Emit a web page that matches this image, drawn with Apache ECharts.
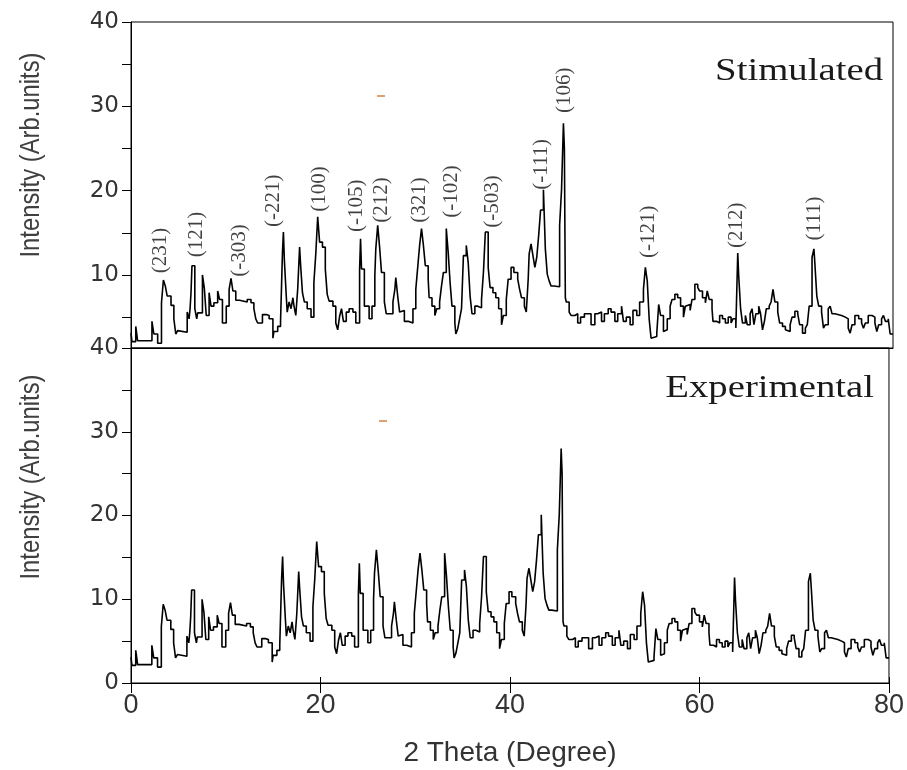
<!DOCTYPE html>
<html>
<head>
<meta charset="utf-8">
<title>XRD pattern</title>
<script src="https://cdn.jsdelivr.net/npm/echarts@6/dist/echarts.min.js"></script>
<style>
  html, body { margin: 0; padding: 0; background: #fff; }
  #chart { width: 907px; height: 770px; }
</style>
</head>
<body>
<div id="chart"></div>
<script>
// 2 theta (degree) where each step of the trace starts
const twoTheta = [
  0.0, 0.1, 0.5, 0.7, 2.2, 2.4, 2.8, 3.2, 3.4, 3.6, 3.8, 4.2, 4.5, 4.7, 4.9, 5.0,
  5.9, 6.1, 6.2, 6.3, 6.4, 6.7, 6.9, 7.0, 7.5, 7.7, 7.9, 8.2, 8.4, 8.7, 9.1, 9.3,
  9.6, 10.0, 10.3, 10.5, 10.7, 11.0, 11.4, 12.2, 12.6, 12.9, 13.1, 13.3, 13.8, 14.2,
  14.5, 14.9, 15.0, 15.4, 15.7, 15.9, 16.0, 16.1, 16.3, 16.4, 16.6, 16.8, 17.0, 17.1,
  17.3, 17.5, 17.7, 17.8, 18.0, 18.2, 18.5, 18.9, 19.2, 19.4, 19.6, 19.8, 20.1, 20.4,
  20.6, 20.8, 21.2, 21.5, 21.7, 21.9, 22.1, 22.3, 22.6, 22.9, 23.3, 23.6, 24.0, 24.1,
  24.2, 24.5, 25.0, 25.3, 25.6, 25.7, 25.9, 26.1, 26.3, 26.6, 26.8, 27.5, 27.7, 27.8,
  28.0, 28.2, 28.4, 28.7, 29.1, 29.6, 29.9, 30.1, 30.3, 30.5, 30.7, 30.9, 31.2, 31.3,
  31.6, 31.9, 32.1, 32.4, 32.6, 32.8, 33.1, 33.3, 33.5, 33.7, 34.0, 34.1, 34.3, 34.5,
  34.7, 34.9, 35.2, 35.4, 35.6, 35.8, 36.1, 36.4, 36.8, 37.0, 37.2, 37.5, 37.7, 38.0,
  38.3, 38.6, 38.9, 39.1, 39.4, 39.6, 39.9, 40.2, 40.6, 40.8, 41.0, 41.3, 41.5, 41.7,
  41.8, 42.0, 42.2, 42.4, 42.6, 42.8, 43.0, 43.3, 43.5, 43.7, 43.9, 44.1, 44.4, 45.0,
  45.2, 45.4, 45.5, 45.6, 45.7, 46.0, 46.2, 46.6, 46.9, 47.2, 47.6, 48.3, 48.7, 49.0,
  49.4, 49.7, 50.1, 50.4, 50.8, 51.1, 51.5, 51.7, 52.0, 52.4, 52.7, 53.1, 53.4, 53.8,
  54.0, 54.2, 54.4, 54.6, 54.8, 55.2, 55.4, 55.6, 55.9, 56.1, 56.3, 56.6, 56.8, 57.1,
  57.4, 57.7, 58.0, 58.2, 58.4, 58.7, 58.9, 59.2, 59.5, 59.7, 60.0, 60.3, 60.5, 60.7,
  61.0, 61.1, 61.5, 61.8, 62.1, 62.4, 62.7, 63.0, 63.2, 63.5, 63.7, 63.8, 64.0, 64.2,
  64.5, 64.7, 65.0, 65.2, 65.4, 65.6, 65.9, 66.1, 66.3, 66.5, 66.7, 67.0, 67.2, 67.4,
  67.6, 67.9, 68.1, 68.4, 68.7, 68.9, 69.2, 69.4, 69.7, 70.0, 70.2, 70.5, 70.8, 71.0,
  71.2, 71.5, 71.7, 71.8, 72.0, 72.2, 72.5, 72.7, 72.9, 73.2, 73.4, 73.6, 73.9, 74.6,
  75.0, 75.3, 75.5, 75.7, 76.0, 76.4, 76.7, 76.9, 77.1, 77.4, 77.8, 78.1, 78.3, 78.5,
  78.8, 79.0, 79.2, 79.5, 79.7, 80.0
];
// intensity (arb. units), same trace in both panels
const intensity = [
  3.1, 2.1, 3.9, 2.2, 4.5, 3.0, 1.9, 6.7, 9.4, 8.7, 7.5, 6.4, 4.8, 3.0, 3.4, 3.2,
  5.6, 4.8, 6.0, 7.9, 11.1, 6.0, 4.8, 5.5, 10.0, 8.4, 5.2, 7.9, 6.3, 6.7, 8.1, 7.1,
  4.3, 6.3, 8.3, 9.6, 8.1, 7.0, 6.8, 7.1, 6.7, 6.0, 4.8, 4.3, 5.3, 5.2,
  4.8, 2.5, 3.3, 3.9, 4.5, 12.6, 15.1, 11.8, 7.5, 5.6, 6.8, 6.0, 7.3, 6.4,
  5.2, 8.3, 13.3, 11.3, 7.9, 6.8, 6.0, 5.0, 9.1, 12.5, 16.9, 13.9, 13.3, 10.7,
  7.7, 6.9, 6.3, 4.3, 3.5, 5.1, 6.0, 4.5, 5.6, 6.0, 5.6, 4.3, 10.7, 14.3,
  10.7, 6.3, 4.8, 6.3, 10.0, 13.1, 15.9, 13.3, 10.3, 6.8, 5.4, 6.8, 8.3, 9.7,
  7.5, 5.6, 5.8, 4.5, 4.3, 6.0, 8.3, 10.9, 13.5, 15.5, 13.5, 11.1, 9.5, 7.3,
  6.3, 5.2, 6.0, 6.8, 8.7, 10.3, 15.5, 12.7, 9.1, 6.3, 4.3, 3.0, 3.6, 4.8,
  6.0, 12.3, 13.5, 11.5, 7.5, 5.4, 6.3, 6.1, 7.1, 10.3, 15.1, 10.9, 8.5, 7.9,
  7.3, 6.0, 4.1, 5.2, 7.1, 9.5, 10.9, 10.3, 9.5, 8.3, 7.3, 6.3, 5.6, 9.5,
  12.5, 13.7, 12.3, 10.9, 12.1, 14.7, 17.7, 20.1, 13.1, 10.1, 9.3, 8.7, 8.6, 15.9,
  20.1, 28.0, 25.0, 7.3, 6.8, 5.6, 5.2, 5.4, 4.3, 5.0, 5.4, 4.1, 5.4, 5.6,
  4.5, 5.4, 6.0, 5.6, 4.5, 5.4, 6.3, 4.5, 5.0, 4.1, 5.8, 5.2, 6.8, 8.3,
  10.9, 9.3, 4.8, 2.5, 2.7, 3.1, 6.5, 5.2, 3.3, 3.5, 4.8, 6.3, 7.1, 7.7,
  7.3, 6.3, 5.0, 6.3, 6.5, 5.8, 7.1, 8.9, 8.5, 8.1, 7.3, 6.7, 8.1, 7.1,
  6.0, 4.5, 4.3, 5.2, 4.8, 4.3, 5.0, 4.3, 4.8, 3.7, 12.6, 9.9, 6.0, 4.3,
  5.2, 4.1, 5.4, 6.0, 4.1, 5.4, 6.3, 5.4, 3.5, 4.5, 6.0, 6.3, 6.8, 8.3,
  6.8, 5.6, 4.3, 3.9, 3.5, 3.3, 4.1, 5.0, 5.7, 5.4, 4.1, 3.1, 3.7, 4.1,
  6.3, 12.1, 13.1, 11.3, 7.5, 6.3, 5.6, 3.7, 4.1, 6.0, 6.3, 5.4, 5.2, 5.0,
  4.8, 3.7, 3.1, 4.1, 5.2, 4.8, 4.3, 3.7, 4.3, 5.2, 5.0, 4.3, 3.3, 4.1,
  4.8, 5.2, 4.5, 4.8, 3.0, 3.0
];
// Miller indices written above the peaks of the simulated pattern
const hklNames = ['(231)', '(121)', '(-303)', '(-221)', '(100)', '(-105)', '(212)', '(321)',
  '(-102)', '(-503)', '(-111)', '(106)', '(-121)', '(212)', '(111)'];
const hklTheta = [3.1, 6.9, 11.4, 15.0, 19.8, 23.7, 26.3, 30.3, 33.6, 38.0, 43.1, 45.5, 54.3, 63.6, 71.8];
const hklIntensity = [10.2, 12.1, 9.8, 15.7, 17.5, 15.1, 16.2, 16.2, 16.8, 15.6, 20.1, 29.2, 12.0, 13.2, 14.1];

const xTicks = [0, 20, 40, 60, 80];
const yLabels = [0, 10, 20, 30, 40];
const yTicks = [0, 5, 10, 15, 20, 25, 30, 35, 40];
const topMin = 1.34; // lower edge of the upper panel

const points = twoTheta.map((t, i) => [t, intensity[i]]);
const labelPoints = hklNames.map((n, i) => ({ name: n, value: [hklTheta[i], hklIntensity[i]] }));

const chart = echarts.init(document.getElementById('chart'));

const tickFont = { fontFamily: 'DejaVu Sans', fontSize: 23, color: '#333' };
function yAxisFor(grid, min, labels) {
  return {
    type: 'value', gridIndex: grid, min: min, max: 40,
    axisLine: { show: true, lineStyle: { color: '#000', width: 1 } },
    axisTick: { show: true, length: 9, customValues: yTicks.filter(v => v >= min), lineStyle: { color: '#000' } },
    axisLabel: Object.assign({ margin: 12, customValues: labels }, tickFont),
    splitLine: { show: false }
  };
}

function sideText(x, y, text) {
  return {
    type: 'text', x: x, y: y, rotation: Math.PI / 2, scaleX: 0.85,
    style: { text: text, align: 'center', verticalAlign: 'middle', font: '28px "Liberation Sans"', fill: '#404040' }
  };
}

function panelText(x, y, text) {
  return {
    type: 'text', x: x, y: y, scaleX: 1.25,
    style: { text: text, align: 'right', verticalAlign: 'alphabetic', font: '31px "Liberation Serif"', fill: '#1a1a1a' }
  };
}

chart.setOption({
  animation: false,
  grid: [
    { left: 131, right: 14, top: 22, height: 326, show: true, borderColor: '#000', borderWidth: 1, backgroundColor: 'transparent' },
    { left: 131, right: 14, top: 348, height: 335, show: true, borderColor: '#000', borderWidth: 1, backgroundColor: 'transparent' }
  ],
  xAxis: [
    {
      type: 'value', gridIndex: 0, min: 0, max: 80, position: 'bottom',
      axisLine: { show: true, lineStyle: { color: '#000' } },
      axisTick: { show: false }, axisLabel: { show: false }, splitLine: { show: false }
    },
    {
      type: 'value', gridIndex: 1, min: 0, max: 80, position: 'bottom',
      axisLine: { show: true, lineStyle: { color: '#000' } },
      axisTick: { show: true, length: 10, customValues: xTicks, lineStyle: { color: '#000' } },
      axisLabel: { customValues: xTicks, margin: 9, fontFamily: 'Liberation Sans', fontSize: 27, color: '#333' },
      splitLine: { show: false },
      name: '2 Theta (Degree)', nameLocation: 'middle', nameGap: 56,
      nameTextStyle: { fontFamily: 'Liberation Sans', fontSize: 28, color: '#333' }
    },
    {
      type: 'value', gridIndex: 1, min: 0, max: 80, position: 'bottom',
      axisLine: { show: false },
      axisTick: { show: true, inside: true, length: 6, customValues: xTicks, lineStyle: { color: '#000' } },
      axisLabel: { show: false }, splitLine: { show: false }
    }
  ],
  yAxis: [yAxisFor(0, topMin, [10, 20, 30, 40]), yAxisFor(1, 0, yLabels)],
  graphic: [
    panelText(883, 56, 'Stimulated'),
    panelText(874, 373, 'Experimental'),
    sideText(31, 155, 'Intensity (Arb.units)'),
    sideText(31, 477, 'Intensity (Arb.units)'),
    { type: 'rect', shape: { x: 377, y: 95, width: 8, height: 2 }, style: { fill: '#e0a070' } },
    { type: 'rect', shape: { x: 379, y: 420, width: 8, height: 2 }, style: { fill: '#e0a070' } }
  ],
  series: [
    {
      name: 'Stimulated', type: 'line', xAxisIndex: 0, yAxisIndex: 0, data: points,
      step: 'end', symbol: 'none', lineStyle: { color: '#000', width: 1.6 }
    },
    {
      name: 'Experimental', type: 'line', xAxisIndex: 1, yAxisIndex: 1, data: points,
      step: 'end', symbol: 'none', lineStyle: { color: '#000', width: 1.6 }
    },
    {
      name: 'hkl', type: 'scatter', xAxisIndex: 0, yAxisIndex: 0, data: labelPoints,
      symbolSize: 0, silent: true,
      label: {
        show: true, position: 'top', distance: 0, rotate: 90, align: 'left', verticalAlign: 'middle',
        formatter: p => p.name, fontFamily: 'Liberation Serif', fontSize: 21, color: '#111'
      }
    }
  ]
});
</script>
</body>
</html>
